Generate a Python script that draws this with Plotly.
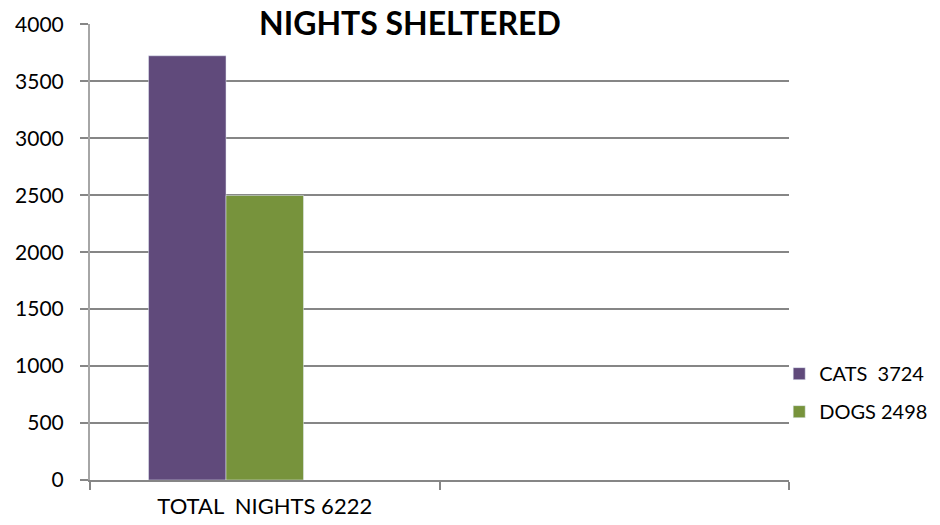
import plotly.graph_objects as go

categories = ["TOTAL\u00a0\u00a0NIGHTS 6222", " "]
cats = [3724, None]
dogs = [2498, None]
spare = [None, None]
y_ticks = [0, 500, 1000, 1500, 2000, 2500, 3000, 3500, 4000]

FONT = "Lato, 'Open Sans', sans-serif"
GRID = "#868686"

fig = go.Figure()
fig.add_trace(go.Bar(x=categories, y=cats, name="CATS\u00a0\u00a03724", marker_color="#604A7B",
                     legendgroup="a"))
fig.add_trace(go.Bar(x=categories, y=dogs, name="DOGS 2498", marker_color="#77933C",
                     legendgroup="b"))
fig.add_trace(go.Bar(x=categories, y=spare, name="", showlegend=False, marker_color="#4BACC6"))

# page has an 8px body margin, so the figure is 932x517 and offset by 8px
fig.update_layout(
    width=932, height=517,
    margin=dict(l=82, r=151, t=16, b=45, autoexpand=False),
    paper_bgcolor="white", plot_bgcolor="white",
    barmode="group", bargap=0.335, bargroupgap=0,
    font=dict(family=FONT, size=21, color="black"),
    showlegend=True,
    legend=dict(x=0.986, xanchor="left", y=0.276, yanchor="top",
                font=dict(size=20), itemwidth=30, tracegroupgap=9,
                bgcolor="rgba(0,0,0,0)"),
    xaxis=dict(type="category", showgrid=False, showline=True, linecolor=GRID, linewidth=2,
               ticks="outside", tickson="boundaries", ticklen=8, tickcolor=GRID, tickwidth=2,
               ticklabelstandoff=6, tickfont=dict(size=22), automargin=False),
    yaxis=dict(range=[0, 4003], tickvals=y_ticks, showgrid=True, gridcolor=GRID, gridwidth=2,
               showline=True, linecolor="#A6A6A6", linewidth=2, zeroline=False,
               ticks="outside", ticklen=8, tickcolor=GRID, tickwidth=2,
               ticklabelstandoff=12, tickfont=dict(size=21), automargin=False),
)

fig.add_shape(type="rect", xref="paper", yref="paper",
              x0=(245 - 90) / 699, x1=(737 - 90) / 699, y0=1 - 14 / 456, y1=1 + 14 / 456,
              fillcolor="white", line_width=0, layer="above")

fig.add_annotation(
    xref="paper", yref="paper", x=(410 - 90) / 699, y=1 + 2 / 456, xanchor="center", yanchor="middle",
    text="<b>NIGHTS SHELTERED</b>", showarrow=False,
    font=dict(size=32, family=FONT, color="black"),
)

fig.write_html("out.html")
